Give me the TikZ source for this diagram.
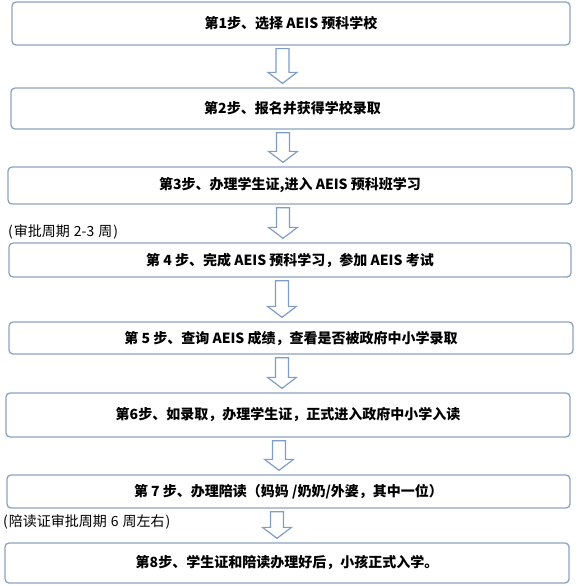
\documentclass[tikz,border=0pt]{standalone}
\usepackage{fontspec}
\setmainfont{Noto Sans CJK SC}
\usetikzlibrary{calc}
\definecolor{boxline}{HTML}{8CA3BF}
\definecolor{arrline}{HTML}{7F9DC6}
\tikzset{
  stepbox/.style={draw=boxline, line width=1.3pt, rounded corners=4pt, fill=white,
    inner sep=0pt, align=center, font=\fontsize{14}{16}\selectfont\bfseries},
  blockarr/.style={draw=arrline, line width=1.2pt, fill=white, line join=miter},
  note/.style={anchor=west, inner sep=0pt, font=\fontsize{14}{16}\selectfont}
}
\newcommand\blockarrow[3]{%
  \draw[blockarr] ($(#1.south -| #3)+(-6.5,3)$) -- ($(#1.south -| #3)+(6.5,3)$)
    -- ($(#2.north -| #3)+(6.5,-15)$) -- ($(#2.north -| #3)+(14.5,-15)$)
    -- ($(#2.north -| #3)+(0,-4)$) -- ($(#2.north -| #3)+(-14.5,-15)$)
    -- ($(#2.north -| #3)+(-6.5,-15)$) -- cycle;}
\newcommand\lowered[2]{\raisebox{-#1pt}{#2}}
\begin{document}
\begin{tikzpicture}[x=1pt,y=-1pt]
\useasboundingbox (0,0) rectangle (578,586);
\node[stepbox, minimum width=558pt, minimum height=43pt] (b1) at (291,23.5) {\lowered{2.5}{第1步、选择 AEIS 预科学校}};
\node[stepbox, minimum width=563pt, minimum height=41pt] (b2) at (292.5,108.5) {\lowered{2.5}{第2步、报名并获得学校录取}};
\node[stepbox, minimum width=564pt, minimum height=37pt] (b3) at (290,185.5) {\lowered{2.5}{第3步、办理学生证,进入 AEIS 预科班学习}};
\node[stepbox, minimum width=562pt, minimum height=34pt] (b4) at (290,260) {\lowered{0.5}{第 4 步、完成 AEIS 预科学习，参加 AEIS 考试}};
\node[stepbox, minimum width=564pt, minimum height=32pt] (b5) at (291,338) {\lowered{2}{第 5 步、查询 AEIS 成绩，查看是否被政府中小学录取}};
\node[stepbox, minimum width=564pt, minimum height=44pt] (b6) at (288,415) {\lowered{0.5}{第6步、如录取，办理学生证，正式进入政府中小学入读}};
\node[stepbox, minimum width=563pt, minimum height=33pt] (b7) at (288.5,491.5) {\lowered{2}{第 7 步、办理陪读（妈妈 /奶奶/外婆，其中一位）}};
\node[stepbox, minimum width=564pt, minimum height=40pt] (b8) at (287,563) {\lowered{1}{第8步、学生证和陪读办理好后，小孩正式入学。}};
\coordinate (x1) at (282.5,0);
\coordinate (x2) at (283,0);
\coordinate (x3) at (283,0);
\coordinate (x4) at (282,0);
\coordinate (x5) at (282,0);
\coordinate (x6) at (279,0);
\coordinate (x7) at (277,0);
\blockarrow{b1}{b2}{x1}
\blockarrow{b2}{b3}{x2}
\blockarrow{b3}{b4}{x3}
\blockarrow{b4}{b5}{x4}
\blockarrow{b5}{b6}{x5}
\blockarrow{b6}{b7}{x6}
\blockarrow{b7}{b8}{x7}
\node[note] (n1) at (8,232) {(\kern1pt审批周期\hspace{4pt}2-3\hspace{4pt}周\kern1pt)};
\node[note] (n2) at (3,522) {(\kern1pt陪读证审批周期\hspace{4pt}6\hspace{4pt}周左右\kern1pt)};
\end{tikzpicture}
\end{document}
